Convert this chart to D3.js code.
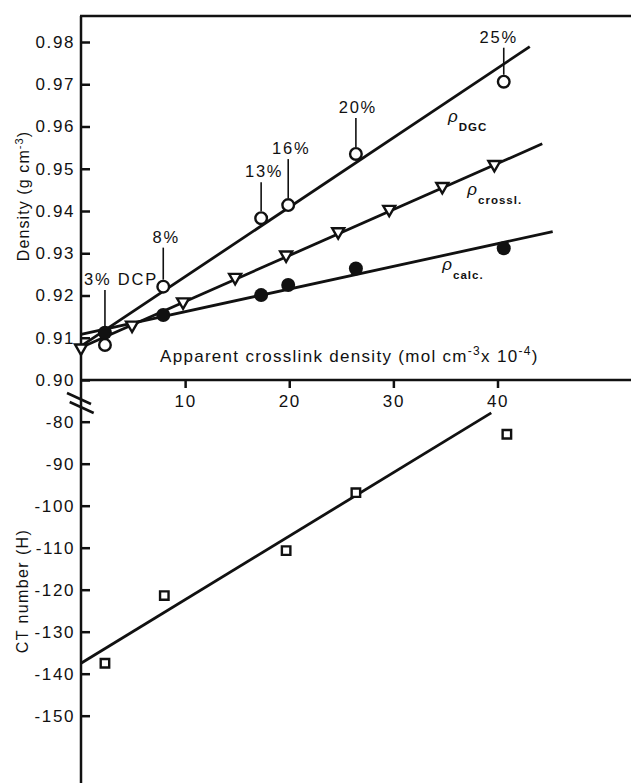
<!DOCTYPE html>
<html>
<head>
<meta charset="utf-8">
<script src="https://cdn.jsdelivr.net/npm/d3@7"></script>
<style>
  body { margin: 0; background: #fff; }
  svg text { font-family: 'Liberation Sans', Arial, sans-serif; fill: #111; }
</style>
</head>
<body>
<div id="chart"></div>
<script>
// crosslink density (mol cm-3 x 10-4) of the DCP samples
const dcpX = [2.3, 7.9, 17.3, 19.9, 26.4, 40.6];
const dcpLabels = ['3% DCP', '8%', '13%', '16%', '20%', '25%'];
const rhoDGC = [0.9083, 0.9221, 0.9383, 0.9414, 0.9535, 0.9706];
const rhoCalc = [0.9112, 0.9154, 0.9201, 0.9225, 0.9264, 0.9312];
const ctNumber = [-137.5, -121.4, -110.7, -96.9, -83.0];
const ctX = [2.3, 8.0, 19.7, 26.4, 40.9];

// computed crosslinked density
const crosslX = [0, 4.9, 9.8, 14.8, 19.7, 24.7, 29.6, 34.7, 39.7];
const rhoCrossl = [0.9076, 0.9130, 0.9185, 0.9243, 0.9296, 0.9351, 0.9404, 0.9458, 0.9510];

// straight line fits, [x, y] end points
const fitDGC = [[0, 0.9080], [43.1, 0.9789]];
const fitCrossl = [[0, 0.9077], [44.3, 0.9559]];
const fitCalc = [[0, 0.9108], [45.3, 0.9351]];
const fitCT = [[0, -137.5], [39.4, -77.9]];

const densityTicks = [0.90, 0.91, 0.92, 0.93, 0.94, 0.95, 0.96, 0.97, 0.98];
const ctTicks = [-80, -90, -100, -110, -120, -130, -140, -150];
const xTicks = [10, 20, 30, 40];

// label layout (pixels above point, horizontal shift)
const labelLift = [60, 44, 41, 51, 41, 39];
const labelDx = [16, 3, 3, 3, 2, -5];

const width = 631;
const height = 783;

const svg = d3.select('#chart')
  .append('svg')
  .attr('width', width)
  .attr('height', height);

const x = d3.scaleLinear().domain([0, 40]).range([81, 497.5]);
const yD = d3.scaleLinear().domain([0.90, 0.98]).range([380, 42]);
const yCT = d3.scaleLinear().domain([-80, -150]).range([421.7, 715.7]);

const x0 = x(0);

// frame lines
svg.append('line')
  .attr('x1', x0).attr('x2', x0)
  .attr('y1', 16).attr('y2', height)
  .attr('stroke', '#111').attr('stroke-width', 2.5);
svg.append('line')
  .attr('x1', x0 - 1).attr('x2', width)
  .attr('y1', 16).attr('y2', 16)
  .attr('stroke', '#111').attr('stroke-width', 2.5);
svg.append('line')
  .attr('x1', x0).attr('x2', width)
  .attr('y1', yD(0.90)).attr('y2', yD(0.90))
  .attr('stroke', '#111').attr('stroke-width', 2.5);

// axis break
svg.append('g')
  .selectAll('line')
  .data([0, 9])
  .enter()
  .append('line')
  .attr('x1', d => x0 - 14 + d * 0.3).attr('y1', d => 393 + d)
  .attr('x2', d => x0 + 10 + d * 0.3).attr('y2', d => 404 + d)
  .attr('stroke', '#111').attr('stroke-width', 2.5);

const styleAxis = g => {
  g.select('.domain').remove();
  g.selectAll('.tick line').attr('stroke', '#111').attr('stroke-width', 2.5);
  g.selectAll('.tick text')
    .style('font-size', '17px')
    .style('letter-spacing', '1.6px')
    .attr('fill', '#111');
};

svg.append('g')
  .attr('transform', `translate(0, ${yD(0.90)})`)
  .call(d3.axisBottom(x).tickValues(xTicks).tickSize(8).tickPadding(7).tickFormat(d => d))
  .call(styleAxis);

svg.append('g')
  .attr('transform', `translate(${x0}, 0)`)
  .call(d3.axisLeft(yD).tickValues(densityTicks).tickSize(-9).tickPadding(6).tickFormat(d3.format('.2f')))
  .call(styleAxis);

svg.append('g')
  .attr('transform', `translate(${x0}, 0)`)
  .call(d3.axisLeft(yCT).tickValues(ctTicks).tickSize(-9).tickPadding(6).tickFormat(d => String(d)))
  .call(styleAxis);

// axis titles
const xTitle = svg.append('text')
  .attr('x', 160)
  .attr('y', 362)
  .style('font-size', '17px')
  .style('letter-spacing', '1.3px');
xTitle.append('tspan').text('Apparent crosslink density (mol cm');
xTitle.append('tspan').attr('dy', -7).style('font-size', '12px').text('-3');
xTitle.append('tspan').attr('dy', 7).text('x 10');
xTitle.append('tspan').attr('dy', -7).style('font-size', '12px').text('-4');
xTitle.append('tspan').attr('dy', 7).text(')');

const yTitle = svg.append('text')
  .attr('transform', 'translate(29, 196) rotate(-90)')
  .attr('text-anchor', 'middle')
  .style('font-size', '16px')
  .style('letter-spacing', '1.1px');
yTitle.append('tspan').text('Density (g cm');
yTitle.append('tspan').attr('dy', -6).style('font-size', '11px').text('-3');
yTitle.append('tspan').attr('dy', 6).text(')');

svg.append('text')
  .attr('transform', 'translate(28, 591) rotate(-90)')
  .attr('text-anchor', 'middle')
  .style('font-size', '16px')
  .style('letter-spacing', '1.4px')
  .text('CT number (H)');

// fit lines
const line = yScale => d3.line().x(d => x(d[0])).y(d => yScale(d[1]));
[fitDGC, fitCrossl, fitCalc].forEach(fit => {
  svg.append('path')
    .attr('d', line(yD)(fit))
    .attr('fill', 'none').attr('stroke', '#111').attr('stroke-width', 2.8);
});
svg.append('path')
  .attr('d', line(yCT)(fitCT))
  .attr('fill', 'none').attr('stroke', '#111').attr('stroke-width', 2.8);

// leader lines and percent labels
const dgcPts = dcpX.map((d, i) => ({ x: d, y: rhoDGC[i], label: dcpLabels[i], lift: labelLift[i], dx: labelDx[i] }));

svg.selectAll('line.leader')
  .data(dgcPts)
  .enter()
  .append('line')
  .attr('class', 'leader')
  .attr('x1', d => x(d.x)).attr('x2', d => x(d.x))
  .attr('y1', d => yD(d.y) - d.lift + 5)
  .attr('y2', d => yD(d.y) - 7)
  .attr('stroke', '#111').attr('stroke-width', 1.6);

svg.selectAll('text.pct')
  .data(dgcPts)
  .enter()
  .append('text')
  .attr('class', 'pct')
  .attr('x', d => x(d.x) + d.dx)
  .attr('y', d => yD(d.y) - d.lift)
  .attr('text-anchor', 'middle')
  .style('font-size', '16.5px')
  .style('letter-spacing', '1.8px')
  .text(d => d.label);

// markers
svg.selectAll('path.tri')
  .data(crosslX.map((d, i) => [d, rhoCrossl[i]]))
  .enter()
  .append('path')
  .attr('class', 'tri')
  .attr('d', d3.symbol().type(d3.symbolTriangle).size(62))
  .attr('transform', d => `translate(${x(d[0])}, ${yD(d[1])}) rotate(180)`)
  .attr('fill', '#fff').attr('stroke', '#111').attr('stroke-width', 2.4);

svg.selectAll('circle.calc')
  .data(dcpX.map((d, i) => [d, rhoCalc[i]]))
  .enter()
  .append('circle')
  .attr('class', 'calc')
  .attr('cx', d => x(d[0])).attr('cy', d => yD(d[1]))
  .attr('r', 7)
  .attr('fill', '#111');

svg.selectAll('circle.dgc')
  .data(dgcPts)
  .enter()
  .append('circle')
  .attr('class', 'dgc')
  .attr('cx', d => x(d.x)).attr('cy', d => yD(d.y))
  .attr('r', 5.8)
  .attr('fill', '#fff').attr('stroke', '#111').attr('stroke-width', 2.4);

svg.selectAll('path.sq')
  .data(ctX.map((d, i) => [d, ctNumber[i]]))
  .enter()
  .append('path')
  .attr('class', 'sq')
  .attr('d', d3.symbol().type(d3.symbolSquare).size(72))
  .attr('transform', d => `translate(${x(d[0])}, ${yCT(d[1])})`)
  .attr('fill', '#fff').attr('stroke', '#111').attr('stroke-width', 2.4);

// rho labels
const rhoLabels = [
  { name: 'DGC', x: 35.25, y: 0.9611 },
  { name: 'crossl.', x: 37.1, y: 0.9438 },
  { name: 'calc.', x: 34.7, y: 0.9260 }
];
const rho = svg.selectAll('text.rho')
  .data(rhoLabels)
  .enter()
  .append('text')
  .attr('class', 'rho')
  .attr('x', d => x(d.x))
  .attr('y', d => yD(d.y));
rho.append('tspan')
  .style('font-size', '17px')
  .style('font-style', 'italic')
  .text('ρ');
rho.append('tspan')
  .attr('dy', 9)
  .attr('dx', 1)
  .style('font-size', '11.5px')
  .style('font-weight', 'bold')
  .style('letter-spacing', '1px')
  .text(d => d.name);
</script>
</body>
</html>
